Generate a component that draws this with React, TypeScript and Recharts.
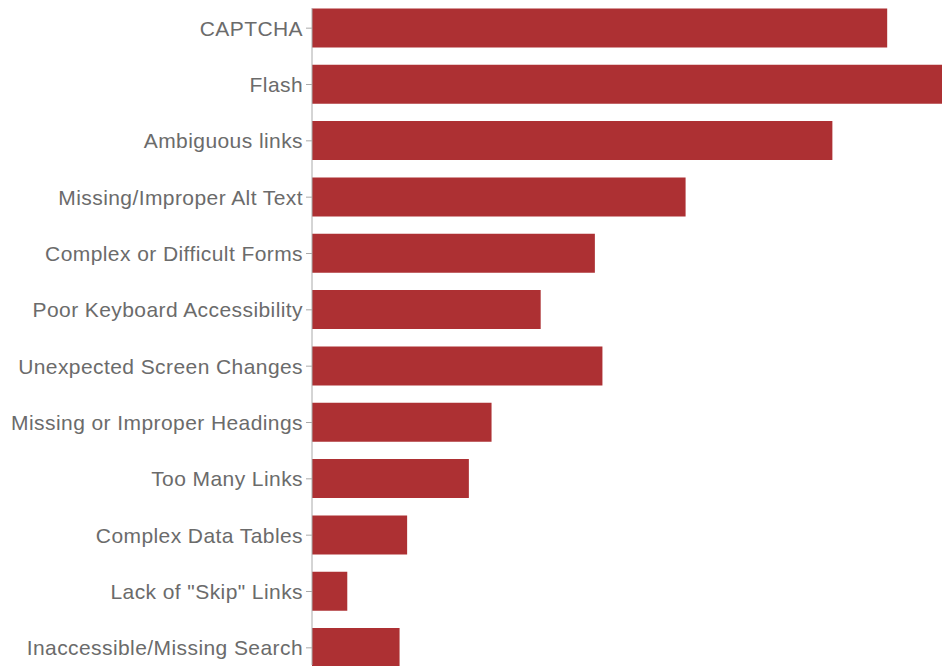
import React from "react";
import { BarChart, Bar, XAxis, YAxis } from "recharts";

const categories = [
  "CAPTCHA",
  "Flash",
  "Ambiguous links",
  "Missing/Improper Alt Text",
  "Complex or Difficult Forms",
  "Poor Keyboard Accessibility",
  "Unexpected Screen Changes",
  "Missing or Improper Headings",
  "Too Many Links",
  "Complex Data Tables",
  'Lack of "Skip" Links',
  "Inaccessible/Missing Search",
];

const values = [91.3, 100, 82.6, 59.3, 44.9, 36.3, 46.1, 28.5, 24.9, 15.1, 5.6, 13.9];

const data = categories.map((name, i) => ({ name, value: values[i] }));

export default function App() {
  return (
    <div style={{ position: "absolute", left: 0, top: 0 }}>
      <BarChart
        width={942}
        height={676}
        data={data}
        layout="vertical"
        margin={{ top: 0, right: 0, bottom: 0, left: 0 }}
        barCategoryGap="15%"
      >
        <XAxis type="number" domain={[0, 100]} hide />
        <YAxis
          type="category"
          dataKey="name"
          width={312}
          tickSize={6}
          tickMargin={3}
          interval={0}
          axisLine={{ stroke: "#aaaaaa", strokeDasharray: "0 8 657 100" }}
          tickLine={{ stroke: "#aaaaaa" }}
          tick={{
            fill: "#6b6b6b",
            fontSize: 21,
            letterSpacing: 0.42,
            fontFamily: "'Liberation Sans', Arial, sans-serif",
          }}
        />
        <Bar dataKey="value" fill="#ad3033" isAnimationActive={false} />
      </BarChart>
    </div>
  );
}
